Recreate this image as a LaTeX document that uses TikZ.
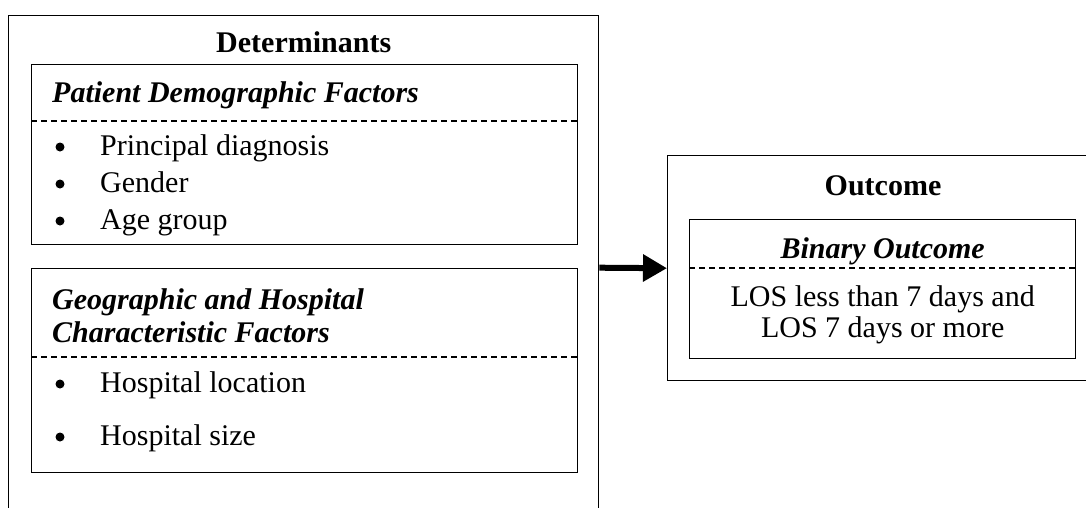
\documentclass[tikz,border=0pt]{standalone}
\usepackage{fontspec}
\setmainfont{Liberation Serif}
\usetikzlibrary{arrows.meta}
\begin{document}
\begin{tikzpicture}[x=1pt,y=-1pt,
  box/.style={draw, line width=1.4pt, inner sep=0pt, anchor=north west},
  sep/.style={line width=1.1pt, dash pattern=on 6pt off 4pt},
  txt/.style={font=\fontsize{30}{36}\selectfont, inner sep=0pt, anchor=base west},
  head/.style={font=\fontsize{30}{36}\selectfont\bfseries, inner sep=0pt, anchor=base},
  sub/.style={font=\fontsize{30}{36}\selectfont\bfseries\itshape, inner sep=0pt, anchor=base west},
  ctr/.style={font=\fontsize{30}{36}\selectfont, inner sep=0pt, anchor=base},
  bul/.style={circle, fill, inner sep=0pt, minimum size=9pt},
  flow/.style={line width=6pt, -{Triangle[length=24pt,width=26pt]}}]
\useasboundingbox (0,0) rectangle (1086,507);
\clip (0,0) rectangle (1086,507);
% boxes
\node[box, minimum width=590pt, minimum height=504pt] (det) at (8,15) {};
\node[box, minimum width=546pt, minimum height=180pt] (pat) at (31,64) {};
\node[box, minimum width=546pt, minimum height=204pt] (geo) at (31,268) {};
\node[box, minimum width=433pt, minimum height=225pt] (out) at (667,155) {};
\node[box, minimum width=386pt, minimum height=139pt] (bin) at (689,219) {};
% dashed separators
\draw[sep] (pat.west |- 0,121) -- (pat.east |- 0,121);
\draw[sep] (geo.west |- 0,357) -- (geo.east |- 0,357);
\draw[sep] (bin.west |- 0,268) -- (bin.east |- 0,268);
% titles
\node[head] (dett) at (det.north |- 0,52) {Determinants};
\node[head] (outt) at (883,195) {Outcome};
\node[sub] (patt) at (52,102) {Patient Demographic Factors};
\node[sub] (geot1) at (52,309) {Geographic and Hospital};
\node[sub] (geot2) at (52,342) {Characteristic Factors};
\node[sub, anchor=base] (bint) at (bin.north |- 0,258) {Binary Outcome};
% bullets
\node[bul] (b1) at (60,147) {};
\node[txt] (t1) at (100,155) {Principal diagnosis};
\node[bul] (b2) at (60,184) {};
\node[txt] (t2) at (100,192) {Gender};
\node[bul] (b3) at (60,221) {};
\node[txt] (t3) at (100,229) {Age group};
\node[bul] (b4) at (60,384) {};
\node[txt] (t4) at (100,392) {Hospital location};
\node[bul] (b5) at (60,437) {};
\node[txt] (t5) at (100,445) {Hospital size};
% outcome text
\node[ctr] (l1) at (bin.north |- 0,306) {LOS less than 7 days and};
\node[ctr] (l2) at (bin.north |- 0,337) {LOS 7 days or more};
% arrow
\draw[flow] (det.east) -- (out.west);
\end{tikzpicture}
\end{document}
